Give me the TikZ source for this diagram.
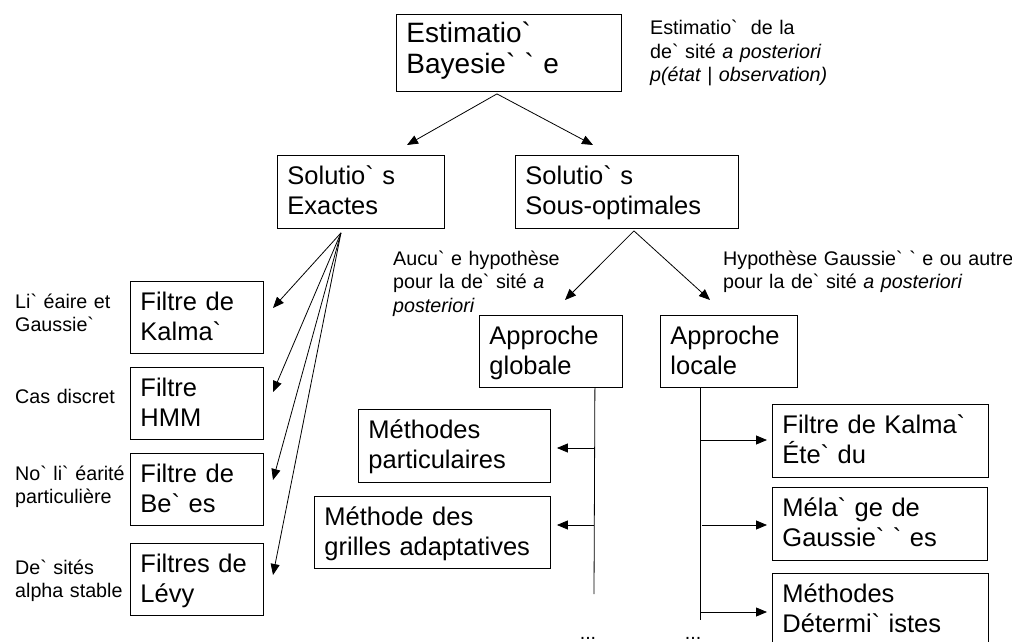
\documentclass[tikz,border=0pt]{standalone}
\usepackage{fontspec}
\setmainfont{Liberation Sans}[Ligatures=TeXOff]
\usetikzlibrary{arrows.meta,calc}
\newcommand{\gr}{\symbol{96}}
\begin{document}
\begin{tikzpicture}[x=1pt,y=-1pt,
  box/.style={draw, line width=0.9pt, anchor=north west, align=left,
    inner xsep=10pt, inner ysep=0pt, text height=29pt,
    font=\fontsize{25.5}{30}\selectfont},
  ann/.style={anchor=base west, align=left, inner sep=0pt,
    font=\fontsize{19.7}{23.5}\selectfont},
  arr/.style={-{Triangle[length=11pt,width=9pt]}, line width=0.8pt},
  ln/.style={line width=0.8pt}]
\useasboundingbox (0,0) rectangle (1012,642);
% boxes
\node[box, font=\fontsize{28}{31}\selectfont, text height=28pt, text width=205pt, text depth=49pt] (est) at (396,14) {Estimatio\gr\\Bayesie\gr{} \gr{} e};
\node[box, text width=147pt, text depth=44pt] (exa) at (277,155) {Solutio\gr{} s\\Exactes};
\node[box, text width=203pt, text depth=44pt] (sop) at (515,155) {Solutio\gr{} s\\Sous-optimales};
\node[box, text width=113pt, text depth=43pt] (kal) at (130,281) {Filtre de\\Kalma\gr};
\node[box, text width=113pt, text depth=43pt] (hmm) at (130,367) {Filtre\\HMM};
\node[box, text width=113pt, text depth=43pt] (ben) at (130,453) {Filtre de\\Be\gr{} es};
\node[box, text width=113pt, text depth=43pt] (lev) at (130,543) {Filtres de\\Lévy};
\node[box, text width=123pt, text depth=43pt] (glo) at (479,315) {Approche\\globale};
\node[box, text width=117pt, text depth=43pt] (loc) at (660,315) {Approche\\locale};
\node[box, text width=172pt, text depth=44pt] (par) at (358,409) {Méthodes\\particulaires};
\node[box, text width=216pt, text depth=43pt] (gri) at (314,496) {Méthode des\\grilles adaptatives};
\node[box, text width=196pt, text depth=44pt] (ext) at (772,404) {Filtre de Kalma\gr\\Éte\gr{} du};
\node[box, text width=195pt, text depth=44pt] (mel) at (772,487) {Méla\gr{} ge de\\Gaussie\gr{} \gr{} es};
\node[box, text width=196pt, text depth=44pt] (det) at (772,573) {Méthodes\\Détermi\gr{} istes};
% annotations
\node[ann, text width=300pt] (a0) at (650,35) {Estimatio\gr\ \ de la\\de\gr{} sité \textit{a posteriori}\\\textit{p(état | observation)}};
\node[ann, text width=170pt] (a1) at (393,265) {Aucu\gr{} e hypothèse\\pour la de\gr{} sité \textit{a}\\\textit{posteriori}};
\node[ann, text width=300pt] (a2) at (723,265) {Hypothèse Gaussie\gr{} \gr{} e ou autre\\pour la de\gr{} sité \textit{a posteriori}};
\node[ann, text width=112pt] (l1) at (15,308) {Li\gr{} éaire et\\Gaussie\gr};
\node[ann, text width=112pt] (l2) at (15,403) {Cas discret};
\node[ann, text width=112pt] (l3) at (15,480) {No\gr{} li\gr{} éarité\\particulière};
\node[ann, text width=112pt] (l4) at (15,574) {De\gr{} sités\\alpha stable};
\node[ann, anchor=base] (d1) at (588,639) {...};
\node[ann, anchor=base] (d2) at (693,639) {...};
% coordinates
\coordinate (estB) at ($(est.south)+(-12,2)$);
\coordinate (exaT) at (407,145);
\coordinate (sopT) at (593,145);
\coordinate (exaB) at ($(exa.south)+(-20,4)$);
\coordinate (t1) at (273,308);
\coordinate (t2) at (273,392);
\coordinate (t3) at (273,480);
\coordinate (t4) at (273,575);
\coordinate (sopB) at ($(sop.south)+(7,2)$);
\coordinate (gT) at (565,300);
\coordinate (lT) at (710,300);
\coordinate (gl1) at ($(glo.south east)+(-28,0)$);
\coordinate (gl2) at (594,594);
\coordinate (ga1) at (594,448);
\coordinate (ga2) at (594,525);
\coordinate (lc1) at ($(loc.south west)+(40,0)$);
\coordinate (lc2) at (700,620);
\coordinate (la1) at (700,440);
\coordinate (la2) at (702,525);
\coordinate (la3) at (700,612);
% connectors
\draw[arr] (estB) -- (exaT);
\draw[arr] (estB) -- (sopT);
\draw[arr] (exaB) -- (t1);
\draw[arr] (exaB) -- (t2);
\draw[arr] (exaB) -- (t3);
\draw[arr] (exaB) -- (t4);
\draw[arr] (sopB) -- (gT);
\draw[arr] (sopB) -- (lT);
\draw[ln] (gl1) -- (gl2);
\draw[ln] (lc1) -- (lc2);
\draw[arr, shorten >=6pt] (ga1) -- (ga1 -| par.east);
\draw[arr, shorten >=6pt] (ga2) -- (ga2 -| gri.east);
\draw[arr, shorten >=5pt] (la1) -- (la1 -| ext.west);
\draw[arr, shorten >=5pt] (la2) -- (la2 -| mel.west);
\draw[arr, shorten >=5pt] (la3) -- (la3 -| det.west);
\end{tikzpicture}
\end{document}
